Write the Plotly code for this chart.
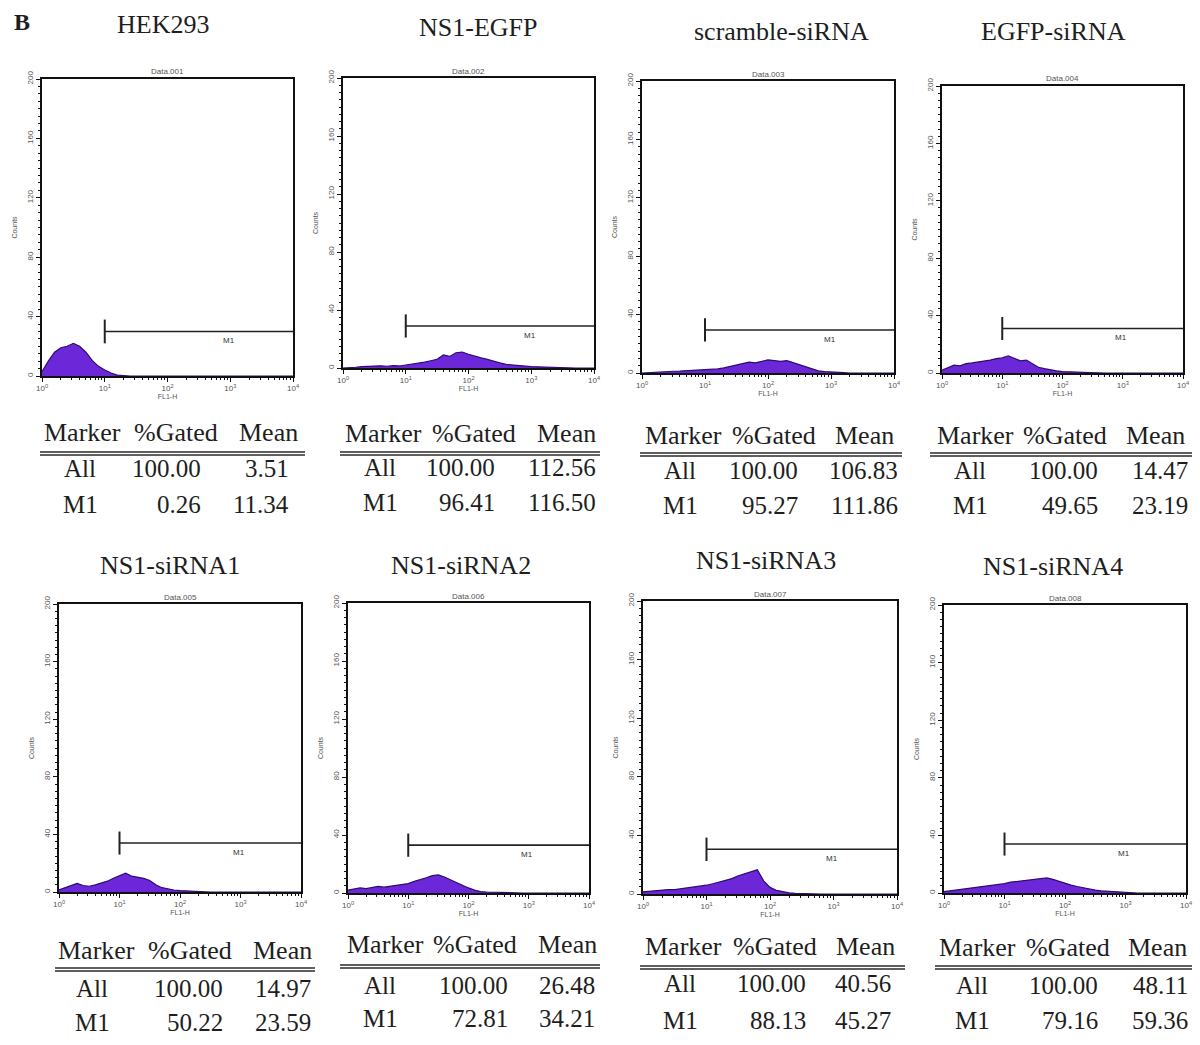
import math
import plotly.graph_objects as go

# ---------------- data ----------------
FL1_DECADES = [0.0, 0.1, 0.2, 0.3, 0.4, 0.5, 0.6, 0.7, 0.8, 0.9,
               1.0, 1.1, 1.2, 1.3, 1.4, 1.5, 1.6, 1.7, 1.8, 1.9,
               2.0, 2.1, 2.2, 2.3, 2.4, 2.5, 2.6, 2.7, 2.8, 2.9,
               3.0, 3.1, 3.2, 3.3, 3.4, 3.5, 3.6, 3.7, 3.8, 3.9, 4.0]

panel_titles = ["HEK293", "NS1-EGFP", "scramble-siRNA", "EGFP-siRNA",
                "NS1-siRNA1", "NS1-siRNA2", "NS1-siRNA3", "NS1-siRNA4"]
data_labels = ["Data.001", "Data.002", "Data.003", "Data.004",
               "Data.005", "Data.006", "Data.007", "Data.008"]

counts_hek293 = [3, 10, 16, 19, 20, 22, 20, 16, 10.5, 6.5,
                 4, 2, 0.6, 0.2, 0, 0, 0, 0, 0, 0,
                 0, 0, 0, 0, 0, 0, 0, 0, 0, 0,
                 0, 0, 0, 0, 0, 0, 0, 0, 0, 0, 0]
counts_ns1_egfp = [0, 0, 0.5, 1, 1.2, 1, 1.5, 1.2, 1.6, 1.4,
                   2, 2.5, 3, 4, 5, 6, 9, 8, 10.5, 11,
                   9.5, 8, 7, 6, 4.5, 3.5, 2.5, 2, 1.5, 1,
                   1, 0.8, 0.6, 0.4, 0.2, 0, 0, 0, 0, 0, 0]
counts_scramble = [0, 0.3, 0.8, 1, 1, 1.2, 1.3, 1.5, 1.5, 1.8,
                   2, 2.2, 2.8, 3.5, 4.5, 5.5, 6.5, 7.5, 7, 8,
                   9, 8.5, 8, 8.5, 7, 6, 4, 2.5, 1.5, 1,
                   0.6, 0.3, 0.2, 0, 0, 0, 0, 0, 0, 0, 0]
counts_egfp_sirna = [2, 4, 5.5, 5, 6.5, 7, 7.5, 8.5, 9, 10,
                     10.5, 12, 10, 8.5, 9, 6.5, 4, 3, 2, 1.5,
                     1, 0.8, 0.6, 0.4, 0.2, 0, 0, 0, 0, 0,
                     0, 0, 0, 0, 0, 0, 0, 0, 0, 0, 0]
counts_sirna1 = [1.5, 3, 4.5, 6, 4.5, 4, 5, 6, 7.5, 9.5,
                 11, 13, 11, 10.5, 9.5, 8, 5, 3, 2, 1.4,
                 1, 0.7, 0.5, 0.3, 0.2, 0, 0, 0, 0, 0,
                 0, 0, 0, 0, 0, 0, 0, 0, 0, 0, 0]
counts_sirna2 = [2, 2.5, 3.5, 3, 4, 4.5, 4, 4.5, 5, 5.5,
                 6.5, 8, 9, 10.5, 12, 12.5, 11, 9, 7, 5.5,
                 3.5, 2, 1, 0.7, 0.5, 0.3, 0.3, 0.2, 0.1, 0,
                 0, 0, 0, 0, 0, 0, 0, 0, 0, 0, 0]
counts_sirna3 = [1.5, 2, 2.5, 2.5, 3, 3, 3.5, 4, 4.5, 5,
                 6, 7, 8, 9.5, 10.5, 12.5, 14, 15, 16.5, 9,
                 4.5, 2.5, 1.5, 0.8, 0.4, 0.2, 0, 0, 0, 0,
                 0, 0, 0, 0, 0, 0, 0, 0, 0, 0, 0]
counts_sirna4 = [1, 1.5, 2.5, 3, 3.5, 4, 4.5, 5, 5, 6,
                 6.5, 7.5, 8, 8.5, 9.5, 9.5, 10, 10.5, 9.5, 8,
                 7, 5.5, 4.5, 3.5, 2.5, 2, 1.5, 1.2, 1, 0.6,
                 0.3, 0.2, 0, 0, 0, 0, 0, 0, 0, 0, 0]
all_counts = [counts_hek293, counts_ns1_egfp, counts_scramble, counts_egfp_sirna,
              counts_sirna1, counts_sirna2, counts_sirna3, counts_sirna4]

gate_start = [10, 10, 10, 10, 10, 10, 10, 10]
gate_end = [10000, 10000, 10000, 10000, 10000, 10000, 10000, 10000]
gate_level = [30, 29, 29.5, 31, 34, 33, 30.5, 34]
gate_label = "M1"

y_tick_vals = [0, 40, 80, 120, 160, 200]
y_tick_text = ["0", "40", "80", "120", "160", "200"]
x_tick_vals = [1, 10, 100, 1000, 10000]
x_tick_text = ["10<sup>0</sup>", "10<sup>1</sup>", "10<sup>2</sup>", "10<sup>3</sup>", "10<sup>4</sup>"]

table_header = ["Marker", "%Gated", "Mean"]
table_markers = ["All", "M1"]
all_gated = ["100.00", "100.00", "100.00", "100.00", "100.00", "100.00", "100.00", "100.00"]
all_mean = ["3.51", "112.56", "106.83", "14.47", "14.97", "26.48", "40.56", "48.11"]
m1_gated = ["0.26", "96.41", "95.27", "49.65", "50.22", "72.81", "88.13", "79.16"]
m1_mean = ["11.34", "116.50", "111.86", "23.19", "23.59", "34.21", "45.27", "59.36"]

# ---------------- layout geometry (pixels) ----------------
W, H = 1200, 1045
boxes = [(42, 293, 79, 376), (343, 594, 78, 368), (642, 894, 81, 373), (942, 1183, 86, 373),
         (59, 301, 604, 892), (348, 589, 603, 893), (643, 897, 601, 894), (944, 1186, 605, 893)]
title_pos = [(163, 24), (478, 28), (782, 31), (1053, 31),
             (170, 565), (461, 565), (766, 560), (1053, 566)]
# left, right, header_y, line_y, row1_y, row2_y, c_marker, c_gated, c_mean, c_first, r_gated, r_mean
tables = [
    (40, 305, 432, 452, 469, 504, 82, 176, 268, 80, 203, 291),
    (340, 600, 433, 452, 468, 502, 383, 474, 566, 380, 497, 598),
    (640, 902, 435, 453, 470, 506, 683, 774, 864, 680, 800, 900),
    (930, 1192, 435, 453, 470, 506, 975, 1065, 1155, 970, 1100, 1190),
    (55, 315, 950, 968, 988, 1022, 97, 190, 282, 92, 225, 313),
    (340, 600, 945, 965, 985, 1018, 385, 475, 567, 380, 510, 597),
    (640, 905, 946, 966, 983, 1020, 683, 775, 865, 680, 808, 893),
    (935, 1192, 947, 966, 985, 1020, 978, 1068, 1157, 972, 1100, 1190),
]


def px(x):
    return x / W


def py(y):
    return 1 - y / H


SERIF = "Liberation Serif, Times New Roman, serif"
SANS = "Liberation Sans, Arial, sans-serif"
TXT = "#1e1e1e"

fig = go.Figure()
annotations = []
shapes = []

x_values = [10 ** d for d in FL1_DECADES]
minor_x = [m * 10 ** d for d in range(4) for m in range(2, 10)]


def paper_text(x, y, text, size, family=SERIF, xanchor="center", color=TXT):
    return dict(x=px(x), y=py(y), xref="paper", yref="paper", text=text,
                xanchor=xanchor, yanchor="middle", showarrow=False,
                font=dict(family=family, size=size, color=color))


for i in range(8):
    ax = "" if i == 0 else str(i + 1)
    xa, ya = "x" + ax, "y" + ax
    l, r, t, b = boxes[i]

    fig.add_trace(go.Scatter(
        x=x_values, y=all_counts[i], xaxis=xa, yaxis=ya, mode="lines",
        line=dict(color="#2e0c70", width=1.2), fill="tozeroy",
        fillcolor="#6b27d8", showlegend=False, hoverinfo="skip"))
    # M1 gate
    fig.add_trace(go.Scatter(
        x=[gate_start[i], gate_end[i]], y=[gate_level[i], gate_level[i]],
        xaxis=xa, yaxis=ya, mode="lines", line=dict(color="#222", width=1.6),
        showlegend=False, hoverinfo="skip"))
    fig.add_trace(go.Scatter(
        x=[gate_start[i], gate_start[i]], y=[gate_level[i] - 8, gate_level[i] + 8],
        xaxis=xa, yaxis=ya, mode="lines", line=dict(color="#222", width=2),
        showlegend=False, hoverinfo="skip"))
    annotations.append(dict(
        x=math.log10(math.sqrt(gate_start[i] * gate_end[i]) * 3), y=gate_level[i] - 2,
        xref=xa, yref=ya, text=gate_label, showarrow=False, xanchor="center", yanchor="top",
        font=dict(family=SANS, size=8, color="#333")))

    common_axis = dict(showline=True, linecolor="#111", linewidth=1.5, mirror=True,
                       showgrid=False, zeroline=False, ticks="outside", ticklen=4,
                       tickcolor="#111", automargin=False,
                       tickfont=dict(family=SANS, size=8, color="#555"))
    fig.layout["xaxis" + ax] = dict(
        common_axis, type="log", range=[0, 4], domain=[px(l), px(r)], anchor=ya,
        tickmode="array", tickvals=x_tick_vals, ticktext=x_tick_text,
        minor=dict(tickmode="array", tickvals=minor_x, ticks="outside", ticklen=2, tickcolor="#111"),
        title=dict(text="FL1-H", font=dict(family=SANS, size=7, color="#555"), standoff=2))
    fig.layout["yaxis" + ax] = dict(
        common_axis, range=[0, 200], domain=[py(b), py(t)], anchor=xa,
        tickmode="array", tickvals=y_tick_vals, ticktext=y_tick_text, tickangle=-90,
        minor=dict(tickmode="linear", tick0=0, dtick=5, ticks="outside", ticklen=2, tickcolor="#111"),
        title=dict(text="Counts", font=dict(family=SANS, size=7, color="#555"), standoff=8))

    # panel title and data label
    tx, ty = title_pos[i]
    annotations.append(paper_text(tx, ty, panel_titles[i], 26))
    annotations.append(paper_text((l + r) / 2, t - 7, data_labels[i], 8, family=SANS, color="#555"))

    # statistics table
    (tl, tr, hy, ly, r1, r2, cm, cg, cme, cf, rg, rme) = tables[i]
    for txt, cx in zip(table_header, [cm, cg, cme]):
        annotations.append(paper_text(cx, hy, txt, 26))
    for dy in (0, 3):
        shapes.append(dict(type="line", xref="paper", yref="paper",
                           x0=px(tl), x1=px(tr), y0=py(ly + dy), y1=py(ly + dy),
                           line=dict(color="#2a2a2a", width=1.6)))
    rows = [(r1, table_markers[0], all_gated[i], all_mean[i]),
            (r2, table_markers[1], m1_gated[i], m1_mean[i])]
    for (ry, mk, g, m) in rows:
        annotations.append(paper_text(cf, ry, mk, 25))
        annotations.append(paper_text(rg, ry, g, 25, xanchor="right"))
        annotations.append(paper_text(rme, ry, m, 25, xanchor="right"))

annotations.append(paper_text(22, 22, "<b>B</b>", 24))

fig.update_layout(width=W, height=H,
                  margin=dict(l=0, r=0, t=0, b=0, pad=0, autoexpand=False),
                  paper_bgcolor="white", plot_bgcolor="white",
                  annotations=annotations, shapes=shapes, showlegend=False)

fig.write_html("out.html", config={"displayModeBar": False},
               post_script="document.body.style.margin='0';")
